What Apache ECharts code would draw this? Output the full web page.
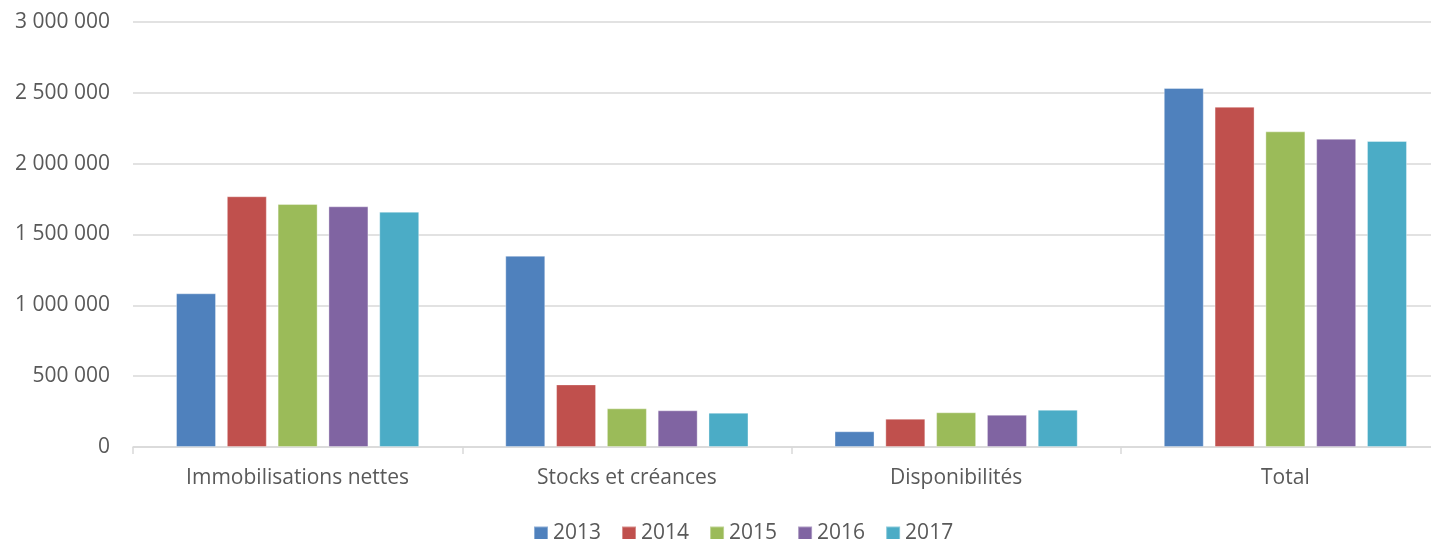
<!DOCTYPE html>
<html>
<head>
<meta charset="utf-8">
<script src="https://cdn.jsdelivr.net/npm/echarts@6/dist/echarts.min.js"></script>
<style>
html,body{margin:0;padding:0;background:#fff;overflow:hidden;}
#chart{width:1452px;height:539px;}
</style>
</head>
<body>
<div id="chart"></div>
<script>
const categories = ['Immobilisations nettes', 'Stocks et créances', 'Disponibilités', 'Total'];
const years = ['2013', '2014', '2015', '2016', '2017'];
const v2013 = [1085000, 1350000, 111000, 2534000];
const v2014 = [1770000, 442000, 200000, 2402000];
const v2015 = [1715000, 273000, 245000, 2228000];
const v2016 = [1699000, 259000, 228000, 2176000];
const v2017 = [1661000, 242000, 263000, 2160000];
const seriesValues = [v2013, v2014, v2015, v2016, v2017];
const colors = ['#4F81BD', '#C0504D', '#9BBB59', '#8064A2', '#4BACC6'];

const fontFamily = '"Open Sans", "Liberation Sans", sans-serif';
const textColor = '#595959';

function fmt(v) {
  return String(v).replace(/\B(?=(\d{3})+(?!\d))/g, ' ');
}

const chart = echarts.init(document.getElementById('chart'));
chart.setOption({
  animation: false,
  color: colors,
  textStyle: { fontFamily: fontFamily },
  grid: { left: 133, top: 22, width: 1317, height: 425, containLabel: false },
  legend: {
    data: years,
    left: 533,
    top: 523,
    padding: 0,
    itemWidth: 14,
    itemHeight: 14,
    itemGap: 20,
    icon: 'rect',
    textStyle: { color: textColor, fontSize: 21, fontFamily: fontFamily }
  },
  xAxis: {
    type: 'category',
    data: categories,
    axisLine: { lineStyle: { color: '#d9d9d9', width: 1.5 } },
    axisTick: { show: true, length: 7, lineStyle: { color: '#d9d9d9', width: 1.5 } },
    axisLabel: { color: textColor, fontSize: 21, margin: 21, fontFamily: fontFamily }
  },
  yAxis: {
    type: 'value',
    min: 0,
    max: 3000000,
    interval: 500000,
    axisLine: { show: false },
    axisTick: { show: false },
    splitLine: { lineStyle: { color: '#d9d9d9', width: 1.5 } },
    axisLabel: { color: textColor, fontSize: 21, margin: 23, fontFamily: fontFamily, formatter: fmt }
  },
  series: years.map((y, i) => ({
    name: y,
    type: 'bar',
    data: seriesValues[i],
    barWidth: 40,
    barGap: '27%',
    itemStyle: { borderColor: 'rgba(255,255,255,0.35)', borderWidth: 1 }
  }))
});
</script>
</body>
</html>
